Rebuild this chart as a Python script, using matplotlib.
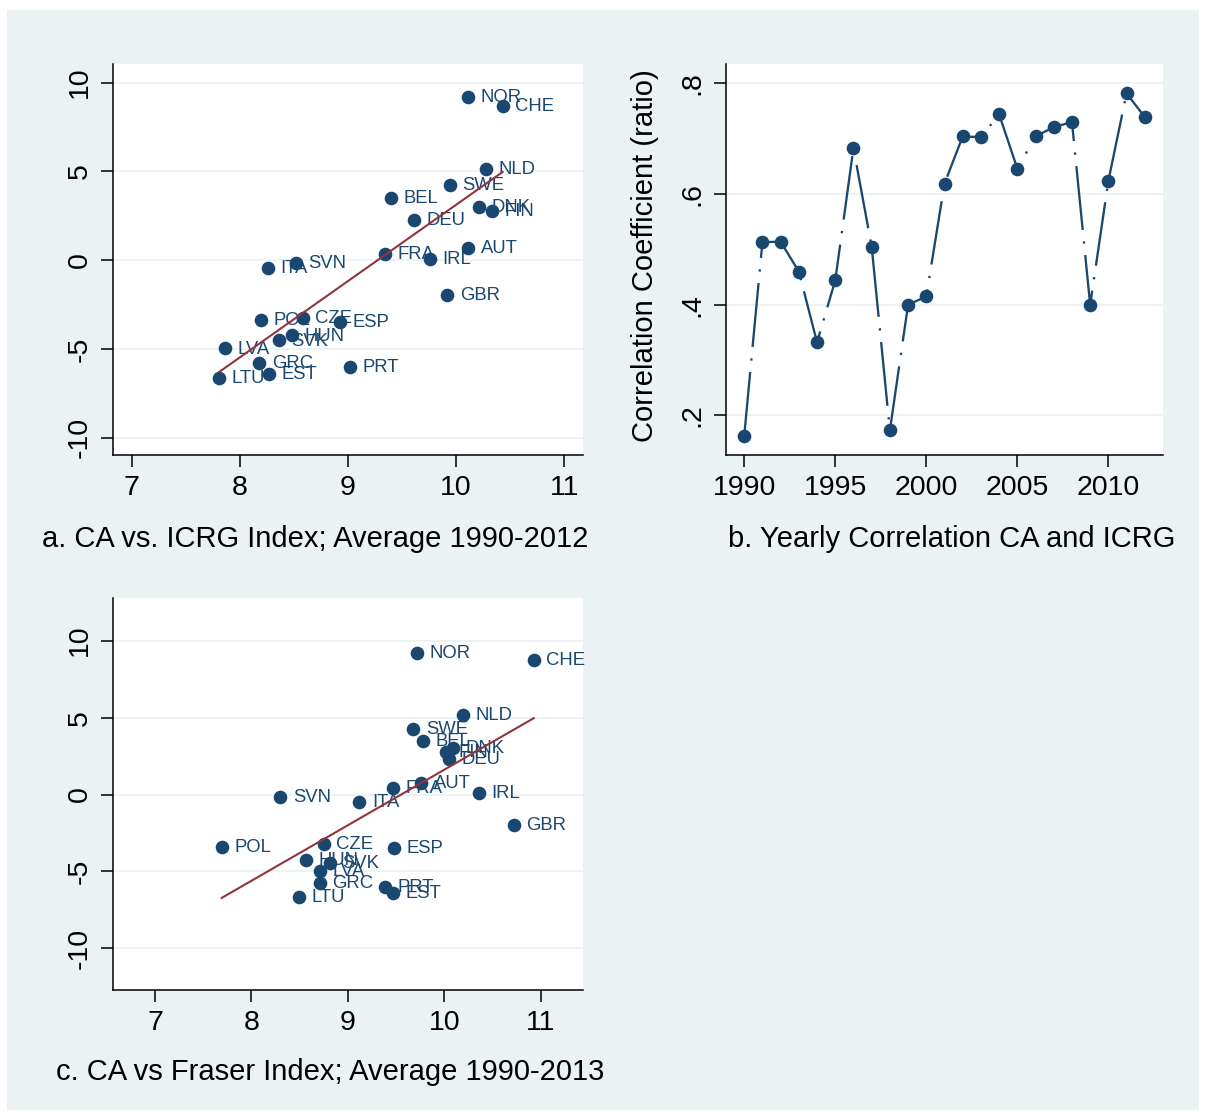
import numpy as np
import matplotlib.pyplot as plt
from matplotlib.patches import Rectangle

plt.rcParams['font.family'] = ['Liberation Sans', 'DejaVu Sans']
plt.rcParams['axes.unicode_minus'] = False

NAVY = '#1A476F'
MAROON = '#90353B'
BG = '#EAF2F3'

countries = ['NOR', 'CHE', 'NLD', 'SWE', 'BEL', 'DNK', 'FIN', 'DEU', 'AUT', 'FRA',
             'IRL', 'ITA', 'SVN', 'GBR', 'POL', 'CZE', 'ESP', 'HUN', 'SVK', 'LVA',
             'GRC', 'EST', 'PRT', 'LTU']

# panel a: ICRG index vs current account, 1990-2012 averages
icrg = np.array([10.11, 10.43, 10.28, 9.94, 9.40, 10.21, 10.33, 9.61, 10.11, 9.34,
                 9.76, 8.26, 8.52, 9.92, 8.20, 8.58, 8.93, 8.48, 8.36, 7.86,
                 8.18, 8.27, 9.02, 7.81])
ca_icrg = np.array([9.19, 8.69, 5.14, 4.23, 3.50, 2.99, 2.77, 2.26, 0.69, 0.35,
                    0.07, -0.44, -0.16, -1.96, -3.37, -3.26, -3.48, -4.23, -4.52, -4.97,
                    -5.80, -6.41, -6.02, -6.64])

# panel c: Fraser index vs current account, 1990-2013 averages
fraser = np.array([9.72, 10.93, 10.19, 9.68, 9.78, 10.09, 10.02, 10.05, 9.76, 9.47,
                   10.36, 9.12, 8.30, 10.72, 7.69, 8.75, 9.48, 8.57, 8.81, 8.71,
                   8.71, 9.47, 9.39, 8.49])
ca_fraser = np.array([9.20, 8.75, 5.17, 4.26, 3.48, 3.03, 2.77, 2.31, 0.75, 0.43,
                      0.10, -0.48, -0.16, -1.98, -3.40, -3.21, -3.47, -4.25, -4.44, -4.96,
                      -5.74, -6.39, -6.00, -6.65])

# panel b: yearly correlation between CA and ICRG
years = np.arange(1990, 2013)
corr = np.array([0.163, 0.513, 0.514, 0.460, 0.332, 0.444, 0.683, 0.505, 0.173, 0.400,
                 0.415, 0.619, 0.704, 0.703, 0.744, 0.646, 0.704, 0.721, 0.730, 0.400,
                 0.624, 0.782, 0.739])

W, H = 1206, 1120
fig = plt.figure(figsize=(W / 100, H / 100), dpi=100)
fig.patch.set_facecolor('white')
fig.patches.append(Rectangle((7 / W, 1 - 1110 / H), (1199 - 7) / W, (1110 - 10) / H,
                             transform=fig.transFigure, facecolor=BG,
                             edgecolor='none', zorder=-10))


def add_axes_px(left, top, right, bottom):
    return fig.add_axes([left / W, 1 - bottom / H, (right - left) / W, (bottom - top) / H])


def style(ax):
    ax.set_facecolor('white')
    for s in ['top', 'right']:
        ax.spines[s].set_visible(False)
    for s in ['left', 'bottom']:
        ax.spines[s].set_linewidth(1.1)
        ax.spines[s].set_color('black')
    ax.tick_params(length=8.6, width=1.1, labelsize=20.5, pad=6, colors='black')
    ax.yaxis.grid(True, color=BG, lw=1.3)
    ax.set_axisbelow(True)


def scatter_panel(ax, x, y):
    ax.plot(x, y, 'o', ms=8.8, color=NAVY, zorder=3)
    for name, xi, yi in zip(countries, x, y):
        ax.annotate(name, (xi, yi), xytext=(9, -0.5), textcoords='offset points',
                    ha='left', va='center', fontsize=13.3, color=NAVY, zorder=3)
    slope, icept = np.polyfit(x, y, 1)
    xs = np.array([x.min(), x.max()])
    ax.plot(xs, icept + slope * xs, color=MAROON, lw=1.5, zorder=4)
    ax.set_yticks([-10, -5, 0, 5, 10])
    ax.set_yticklabels(['-10', '-5', '0', '5', '10'], rotation=90, va='center')


# a. CA vs ICRG
ax_a = add_axes_px(113, 64, 583, 455)
style(ax_a)
scatter_panel(ax_a, icrg, ca_icrg)
ax_a.set_xlim(6.827, 11.173)
ax_a.set_ylim(-10.97, 11.05)
ax_a.set_xticks([7, 8, 9, 10, 11])

# b. yearly correlation
ax_b = add_axes_px(726, 64, 1163, 455)
style(ax_b)
ax_b.plot(years, corr, color=NAVY, lw=1.65, ls=(0, (28, 5, 1, 5)),
          marker='o', ms=8.8, zorder=3)
ax_b.set_xlim(1989, 2013)
ax_b.set_ylim(0.1285, 0.835)
ax_b.set_xticks([1990, 1995, 2000, 2005, 2010])
ax_b.set_yticks([0.2, 0.4, 0.6, 0.8])
ax_b.set_yticklabels(['.2', '.4', '.6', '.8'], rotation=90, va='center')

# c. CA vs Fraser
ax_c = add_axes_px(113, 598, 583, 990)
style(ax_c)
scatter_panel(ax_c, fraser, ca_fraser)
ax_c.set_xlim(6.563, 11.44)
ax_c.set_ylim(-12.70, 12.77)
ax_c.set_xticks([7, 8, 9, 10, 11])

fig.text(645 / W, 1 - 256 / H, 'Correlation Coefficient (ratio)', rotation=90,
         ha='center', va='center', fontsize=21)

fig.text(315 / W, 1 - 539 / H, 'a. CA vs. ICRG Index; Average 1990-2012',
         ha='center', va='center', fontsize=21)
fig.text(952 / W, 1 - 539 / H, 'b. Yearly Correlation CA and ICRG',
         ha='center', va='center', fontsize=21)
fig.text(330 / W, 1 - 1072 / H, 'c. CA vs Fraser Index; Average 1990-2013',
         ha='center', va='center', fontsize=21)

fig.savefig('out.png', dpi=100)
